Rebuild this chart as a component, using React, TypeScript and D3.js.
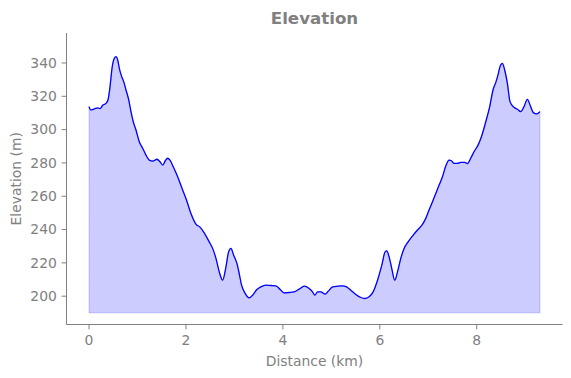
import React from "react";
import * as d3 from "d3";

const distanceKm = [
  0.0, 0.035, 0.109, 0.179, 0.227, 0.282, 0.351, 0.392, 0.433, 0.474, 0.522, 0.557, 0.592, 0.625, 0.674, 0.715,
  0.763, 0.819, 0.866, 0.913, 0.969, 1.037, 1.107, 1.175, 1.243, 1.313, 1.402, 1.464, 1.52, 1.573, 1.623, 1.67,
  1.738, 1.829, 1.932, 2.0, 2.103, 2.206, 2.295, 2.377, 2.48, 2.551, 2.619, 2.687, 2.757, 2.825, 2.88, 2.928,
  2.984, 3.052, 3.099, 3.148, 3.216, 3.305, 3.375, 3.464, 3.546, 3.649, 3.753, 3.856, 3.944, 4.027, 4.13, 4.233,
  4.336, 4.439, 4.542, 4.612, 4.66, 4.715, 4.784, 4.872, 4.942, 5.025, 5.128, 5.231, 5.313, 5.402, 5.505, 5.608,
  5.691, 5.779, 5.862, 5.953, 6.041, 6.109, 6.144, 6.192, 6.247, 6.309, 6.365, 6.433, 6.501, 6.584, 6.674, 6.777,
  6.88, 6.948, 7.016, 7.087, 7.155, 7.223, 7.293, 7.361, 7.429, 7.478, 7.532, 7.602, 7.67, 7.753, 7.808, 7.876,
  7.944, 8.027, 8.097, 8.186, 8.268, 8.336, 8.392, 8.447, 8.48, 8.53, 8.577, 8.633, 8.687, 8.769, 8.839, 8.907,
  8.975, 9.045, 9.113, 9.169, 9.237, 9.305,
];

const elevationM = [
  313.8, 311.8, 312.4, 313.1, 312.6, 314.6, 315.8, 317.9, 325.8, 336.8, 342.8, 343.8, 341.8, 336.8, 331.8, 328.8,
  323.8, 317.9, 310.8, 304.7, 299.8, 292.7, 288.8, 284.7, 281.7, 281.1, 282.2, 280.7, 278.7, 281.3, 282.8, 281.7,
  277.7, 271.7, 263.7, 258.7, 249.7, 243.3, 241.3, 238.0, 232.6, 228.7, 222.7, 214.6, 209.6, 217.6, 226.6, 228.7,
  224.6, 219.7, 213.6, 206.6, 202.0, 199.0, 200.6, 204.0, 205.6, 206.6, 206.4, 206.2, 204.0, 202.0, 202.2, 202.6,
  204.2, 206.0, 204.6, 202.6, 200.6, 202.6, 202.6, 201.2, 203.2, 205.6, 206.0, 206.2, 205.6, 203.6, 201.0, 199.2,
  198.6, 199.6, 202.6, 209.6, 218.6, 226.6, 227.2, 223.6, 216.6, 209.6, 214.6, 222.7, 228.7, 232.6, 236.1, 239.7,
  243.1, 246.7, 251.7, 256.7, 261.7, 266.7, 271.7, 278.1, 281.7, 281.3, 279.7, 279.7, 280.3, 280.3, 279.6, 282.8,
  286.7, 290.7, 295.7, 304.7, 313.8, 323.8, 328.2, 333.8, 337.8, 339.8, 335.8, 327.8, 316.8, 313.4, 312.2, 310.8,
  313.8, 318.2, 313.8, 310.2, 309.4, 310.8,
];

const xTicks = [0, 2, 4, 6, 8];
const yTicks = [200, 220, 240, 260, 280, 300, 320, 340];
const fillBase = 190;
const titleText = "Elevation";
const xLabel = "Distance (km)";
const yLabel = "Elevation (m)";

export default function App() {
  const W = 571;
  const H = 378;
  const left = 66.5;
  const right = 562.5;
  const top = 33;
  const bottom = 324.5;
  const grey = "#808080";
  const font = "DejaVu Sans, sans-serif";

  const x = d3.scaleLinear().domain([-0.465, 9.77]).range([left, right]);
  const y = d3.scaleLinear().domain([183, 358]).range([bottom, top]);

  const pts = distanceKm.map((d, i) => [d, elevationM[i]] as [number, number]);
  const line = d3
    .line<[number, number]>()
    .x((d) => x(d[0]))
    .y((d) => y(d[1]))
    .curve(d3.curveMonotoneX);
  const area = d3
    .area<[number, number]>()
    .x((d) => x(d[0]))
    .y0(y(fillBase))
    .y1((d) => y(d[1]))
    .curve(d3.curveMonotoneX);

  return (
    <svg
      width={W}
      height={H}
      style={{ position: "absolute", left: 0, top: 0, background: "#fff" }}
    >
      <path d={area(pts) || ""} fill="rgb(0,0,255)" fillOpacity={0.2} stroke="rgb(0,0,255)" strokeOpacity={0.2} strokeWidth={1} />
      <path d={line(pts) || ""} fill="none" stroke="#0000ff" strokeWidth={1.3} strokeLinejoin="round" />

      <line x1={left} x2={left} y1={top} y2={bottom} stroke={grey} strokeWidth={1} />
      <line x1={left} x2={right} y1={bottom} y2={bottom} stroke={grey} strokeWidth={1} />

      {xTicks.map((t) => (
        <g key={"x" + t} transform={`translate(${x(t)},${bottom})`}>
          <line y1={0} y2={4.9} stroke={grey} strokeWidth={1} />
          <text y={20} textAnchor="middle" fill={grey} fontFamily={font} fontSize={13.9}>
            {t}
          </text>
        </g>
      ))}
      {yTicks.map((t) => (
        <g key={"y" + t} transform={`translate(${left},${y(t)})`}>
          <line x1={0} x2={-4.9} stroke={grey} strokeWidth={1} />
          <text x={-9.7} dy="0.35em" textAnchor="end" fill={grey} fontFamily={font} fontSize={13.9}>
            {t}
          </text>
        </g>
      ))}

      <text x={(left + right) / 2} y={366} textAnchor="middle" fill={grey} fontFamily={font} fontSize={13.9}>
        {xLabel}
      </text>
      <text
        transform={`translate(21,${(top + bottom) / 2}) rotate(-90)`}
        textAnchor="middle"
        fill={grey}
        fontFamily={font}
        fontSize={13.9}
      >
        {yLabel}
      </text>
      <text x={(left + right) / 2} y={24} textAnchor="middle" fill={grey} fontFamily={font} fontSize={16.67} fontWeight="bold">
        {titleText}
      </text>
    </svg>
  );
}
